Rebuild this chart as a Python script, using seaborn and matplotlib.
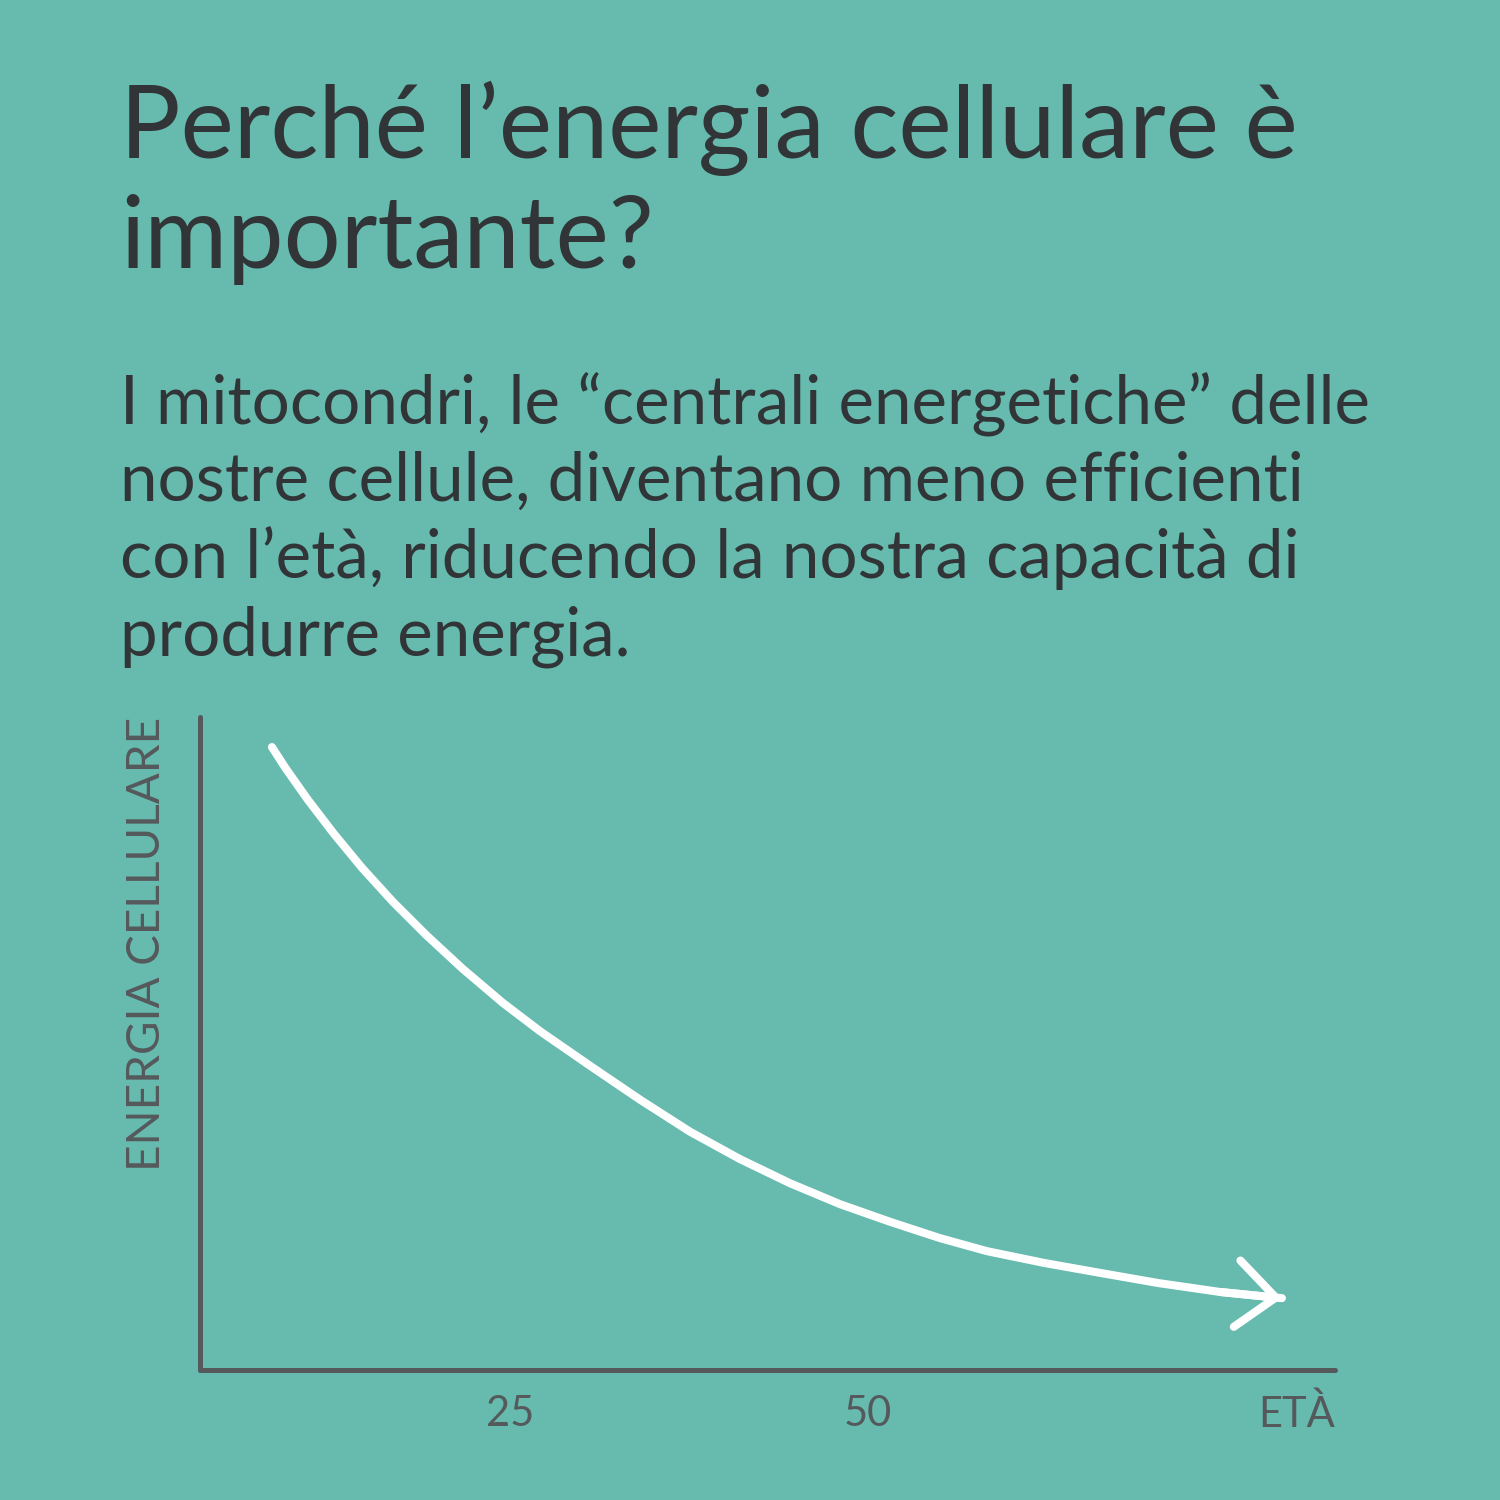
import numpy as np
import pandas as pd
import seaborn as sns
import matplotlib.pyplot as plt

# curve: age vs cellular energy (0-100 scale)
age = [8.32, 9.23, 10.84, 12.66, 14.62, 16.78, 19.16, 21.68, 24.48, 27.06,
       30.56, 34.06, 37.55, 41.05, 44.55, 48.04, 51.54, 55.03, 58.32, 62.31,
       66.29, 70.35, 74.62, 78.95]
energy = [95.4, 92.3, 87.3, 82.1, 76.9, 71.7, 66.5, 61.4, 56.2, 51.9,
          46.6, 41.4, 36.5, 32.3, 28.6, 25.4, 22.7, 20.2, 18.2, 16.4,
          14.85, 13.3, 11.95, 11.0]
tick_pos = [25, 50]
tick_labels = ["25", "50"]

title_lines = ["Perché l’energia cellulare è", "importante?"]
body_lines = ["I mitocondri, le “centrali energetiche” delle",
              "nostre cellule, diventano meno efficienti",
              "con l’età, riducendo la nostra capacità di",
              "produrre energia."]

bg = "#66bbae"
dark = "#323537"
grey = "#55595c"

sns.set_theme(style="white", rc={"figure.facecolor": bg, "axes.facecolor": bg})
plt.rcParams['font.family'] = ['Lato', 'DejaVu Sans']

fig = plt.figure(figsize=(15, 15), dpi=100)

# title and body text (pixel positions from the top)
for i, line in enumerate(title_lines):
    fig.text(120 / 1500, 1 - (158 + 110 * i) / 1500, line, fontsize=72.5,
             color=dark, va='baseline', ha='left')
for i, line in enumerate(body_lines):
    fig.text(120 / 1500, 1 - (423 + 77.5 * i) / 1500, line, fontsize=48.4,
             color=dark, va='baseline', ha='left')

ax = fig.add_axes([200 / 1500, 130 / 1500, 1135 / 1500, 653 / 1500])
df = pd.DataFrame({"age": age, "energy": energy})
sns.lineplot(data=df, x="age", y="energy", color="white", linewidth=5.8,
             sort=False, solid_capstyle='round', solid_joinstyle='round', ax=ax)
ax.annotate("", xy=(age[-1], energy[-1]), xytext=(age[-2], energy[-2]),
            arrowprops=dict(arrowstyle="->,head_length=28,head_width=24",
                            mutation_scale=1, color="white", lw=5.8,
                            shrinkA=0, shrinkB=0, capstyle='round',
                            joinstyle='round'))

ax.set_xlim(3.29, 82.66)
ax.set_ylim(0, 100)
sns.despine(ax=ax)
for s in ["left", "bottom"]:
    ax.spines[s].set_color(grey)
    ax.spines[s].set_linewidth(3.6)
    ax.spines[s].set_capstyle('round')
ax.set_xticks(tick_pos)
ax.set_xticklabels(tick_labels, fontsize=30, color=grey)
ax.set_yticks([])
ax.tick_params(axis='x', length=0, pad=18)
ax.set_xlabel("")
ax.set_ylabel("")
ax.text(1.0, -0.087, "ETÀ", transform=ax.transAxes, ha='right', va='baseline',
        fontsize=30, color=grey)
fig.text(147 / 1500, 1 - 717 / 1500, "ENERGIA CELLULARE", rotation=90,
         ha='center', va='top', fontsize=33, color=grey)

fig.savefig("out.png", dpi=100, facecolor=bg)
